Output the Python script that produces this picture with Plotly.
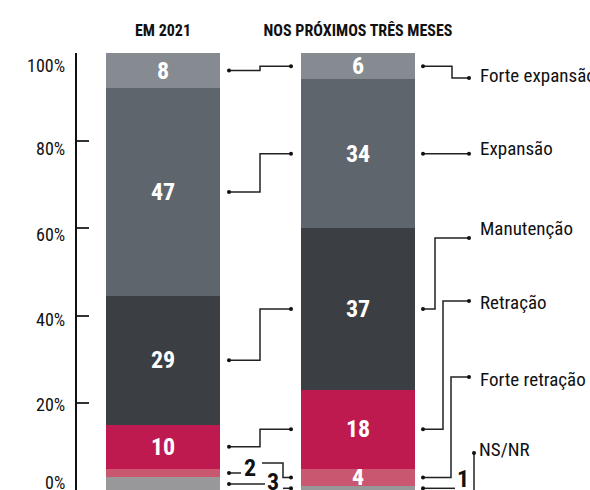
import plotly.graph_objects as go

# ---------------- data ----------------
categories = ["EM 2021", "NOS PRÓXIMOS TRÊS MESES"]
series_names = ["NS/NR", "Forte retração", "Retração", "Manutenção", "Expansão", "Forte expansão"]
values_2021 = [3, 2, 10, 29.5, 47.5, 8]
values_next = [1, 4, 18, 37, 34, 6]
labels_2021 = ["3", "2", "10", "29", "47", "8"]
labels_next = ["1", "4", "18", "37", "34", "6"]
tick_values = [0, 20, 40, 60, 80, 100]
tick_labels = ["0%", "20%", "40%", "60%", "80%", "100%"]

colors = ["#98989a", "#c9576f", "#be1a50", "#3b3f43", "#5f656c", "#868b91"]

FONT = "Liberation Sans Narrow, Roboto Condensed, Arial Narrow, DejaVu Sans Condensed, sans-serif"

# pixel helpers (layout only)
def v(py):
    return (490.5 - py) / 4.375

def cx(px):
    return (px - 163) / 195.0

def paper_x(px):
    return (px - 77) / 513.0

fig = go.Figure()

# labels shown inside the bars (small ones are drawn outside)
inside_2021 = [t if val >= 4 else "" for t, val in zip(labels_2021, values_2021)]
inside_next = [t if val >= 4 else "" for t, val in zip(labels_next, values_next)]

for i, name in enumerate(series_names):
    fig.add_trace(go.Bar(
        x=categories,
        y=[values_2021[i], values_next[i]],
        name=name,
        text=[inside_2021[i], inside_next[i]],
        textposition="inside",
        insidetextanchor="middle",
        textangle=0,
        constraintext="none",
        textfont=dict(color="white", size=24, family=FONT, weight=700),
        marker=dict(color=colors[i], line=dict(width=0)),
        hoverinfo="skip",
        showlegend=False,
    ))

# segment midpoints
def mids(vals):
    out, acc = [], 0
    for val in vals:
        out.append(acc + val / 2)
        acc += val
    return out

m21 = mids(values_2021)
mnx = mids(values_next)

LINE = dict(color="#222222", width=1.5)
dots_x, dots_y = [], []

def conn(xs, ys, dot_ends=(True, True)):
    fig.add_trace(go.Scatter(x=xs, y=ys, xaxis="x2", yaxis="y", mode="lines",
                             line=LINE, hoverinfo="skip", showlegend=False))
    if dot_ends[0]:
        dots_x.append(xs[0]); dots_y.append(ys[0])
    if dot_ends[1]:
        dots_x.append(xs[-1]); dots_y.append(ys[-1])

xa, xm, xb = cx(229), cx(260), cx(291)
# middle connectors for the large segments (Retração .. Forte expansão)
for i in [2, 3, 4, 5]:
    conn([xa, xm, xm, xb], [m21[i], m21[i], mnx[i], mnx[i]])

# Forte retração (2021 -> next), with label "2" in between
conn([xa, cx(241)], [m21[1], m21[1]], (True, False))
conn([cx(262), cx(283), cx(283), xb], [v(463), v(463), mnx[1], mnx[1]], (False, True))
# NS/NR (2021 -> next), with label "3" in between
conn([xa, cx(265)], [m21[0], m21[0]], (True, False))
conn([cx(283), xb], [mnx[0], mnx[0]], (False, True))

# right-side connectors to the series names
xr, xl = cx(423), cx(469)
right_line_py = {5: 78, 3: 238, 2: 301, 1: 377}
right_vert_px = {5: 452, 3: 435, 2: 443, 1: 451}
for i in [5, 3, 2, 1]:
    xv = cx(right_vert_px[i])
    yl = v(right_line_py[i])
    conn([xr, xv, xv, xl], [mnx[i], mnx[i], yl, yl])
conn([xr, xl], [mnx[4], mnx[4]])
# NS/NR
conn([xr, cx(455)], [mnx[0], mnx[0]], (True, False))
conn([cx(474), cx(474)], [v(492), v(453)], (False, True))

fig.add_trace(go.Scatter(x=dots_x, y=dots_y, xaxis="x2", yaxis="y", mode="markers",
                         marker=dict(color="#111111", size=4), hoverinfo="skip",
                         showlegend=False))

annotations = []
# series names at right
name_py = {5: 75, 4: 148, 3: 228, 2: 302, 1: 379, 0: 449}
for i, py in name_py.items():
    annotations.append(dict(x=paper_x(478 if i != 0 else 477), y=v(py), xref="paper", yref="y",
                            text=series_names[i], showarrow=False, xanchor="left",
                            yanchor="middle",
                            font=dict(family=FONT, size=19, color="#111111")))

# outside numeric labels for tiny segments
small = [("2", 250, 468), ("3", 273, 482), ("1", 463, 479)]
for t, px, py in small:
    annotations.append(dict(x=paper_x(px), y=v(py), xref="paper", yref="y", text=t,
                            showarrow=False, xanchor="center", yanchor="middle",
                            font=dict(family=FONT, size=24, color="#111111", weight=700)))

# y tick labels
label_py = {100: 65, 80: 148, 60: 234, 40: 319, 20: 404, 0: 482}
for tv, tl in zip(tick_values, tick_labels):
    annotations.append(dict(x=paper_x(67), y=v(label_py[tv]), xref="paper", yref="y", text=tl,
                            showarrow=False, xanchor="right", yanchor="middle",
                            font=dict(family=FONT, size=18, color="#111111")))

xr0, xr1 = cx(77), cx(590)
fig.update_layout(
    width=590, height=490,
    margin=dict(l=77, r=0, t=53, b=0, autoexpand=False),
    barmode="stack",
    bargap=1 - 114 / 195.0,
    plot_bgcolor="white", paper_bgcolor="white",
    showlegend=False,
    xaxis=dict(type="category", range=[xr0, xr1], side="top", showline=False,
               ticks="", showgrid=False, zeroline=False, ticklabelstandoff=13,
               tickfont=dict(family=FONT, size=16, color="#111111", weight=700)),
    xaxis2=dict(overlaying="x", range=[xr0, xr1], visible=False, anchor="y"),
    yaxis=dict(range=[v(490), 100], showline=True, linecolor="#111111", linewidth=1.5,
               ticks="inside", ticklen=12, tickwidth=1.5, tickcolor="#333333",
               tickvals=tick_values, showticklabels=False, showgrid=False,
               zeroline=False),
    annotations=annotations,
)

fig.write_html("out.html")
